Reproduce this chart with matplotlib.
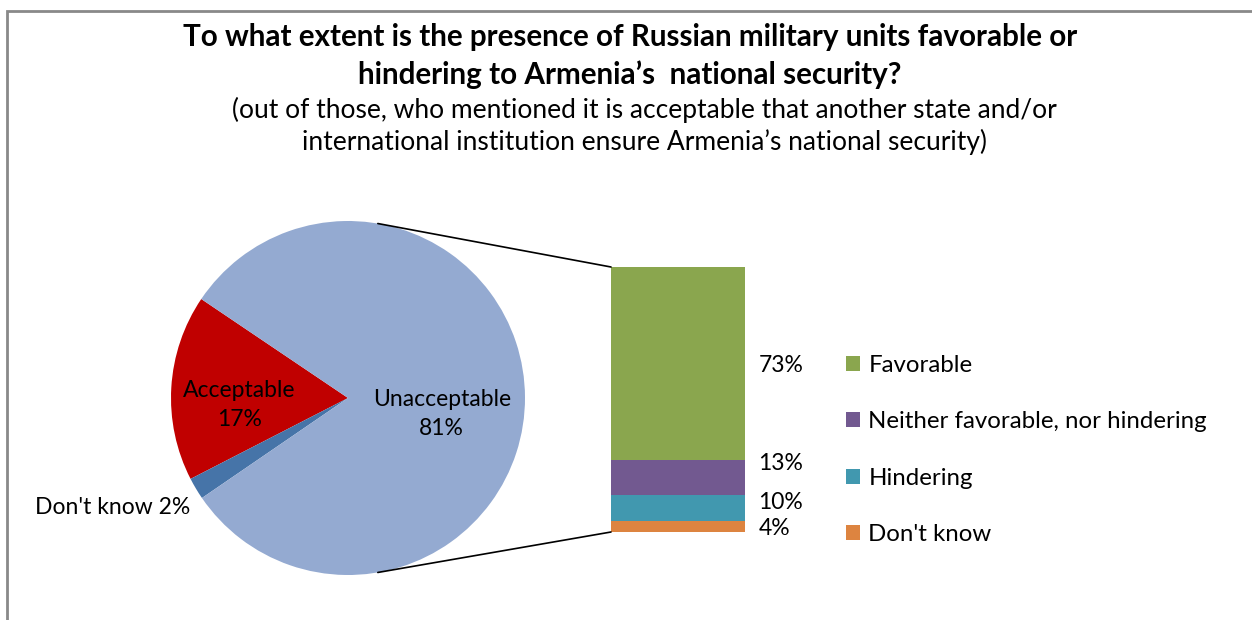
import numpy as np
import matplotlib.pyplot as plt
from matplotlib.patches import Rectangle, ConnectionPatch

plt.rcParams['font.family'] = ['Lato', 'DejaVu Sans']

# pie: share of respondents who find outside security guarantees acceptable
pie_labels = ['Acceptable', "Don't know", 'Unacceptable']
pie_values = [17, 2, 81]
pie_colors = ['#C00000', '#4674A8', '#94AAD1']

# bar: view of Russian military units among the "acceptable" group
bar_labels = ["Don't know", 'Hindering', 'Neither favorable, nor hindering', 'Favorable']
bar_values = [4, 10, 13, 73]
bar_colors = ['#DD8440', '#4198AF', '#725990', '#8AA64E']

title = ("To what extent is the presence of Russian military units favorable or\n"
         "hindering to Armenia\u2019s  national security?")
subtitle = ("(out of those, who mentioned it is acceptable that another state and/or\n"
            "international institution ensure Armenia\u2019s national security)")

W, H = 1252, 620
fig = plt.figure(figsize=(W / 100, H / 100), dpi=100)

# outer frame (only top and left edges fall inside the image)
fig.patches.append(Rectangle((7 / W, -0.1), 1.2, (H - 11) / H + 0.1,
                             transform=fig.transFigure, fill=False,
                             edgecolor='#898989', lw=2))

fig.text(0.503, 1 - 56 / H, title, ha='center', va='center',
         fontsize=21.3, fontweight='bold', linespacing=1.42)
fig.text(0.515, 1 - 126 / H, subtitle, ha='center', va='center',
         fontsize=19, linespacing=1.25)

# pie of the main question
cx, cy, r = 348, 398, 177
ax_pie = fig.add_axes([(cx - r) / W, (H - cy - r) / H, 2 * r / W, 2 * r / H])
ax_pie.pie(pie_values, colors=pie_colors, startangle=146, counterclock=True,
           radius=1, wedgeprops=dict(linewidth=0))
ax_pie.set_xlim(-1, 1)
ax_pie.set_ylim(-1, 1)
ax_pie.set_aspect('equal')
ax_pie.axis('off')

ax_pie.text(-0.615, -0.04, f'{pie_labels[0]}\n{pie_values[0]}%', ha='center',
            va='center', fontsize=16.5, linespacing=1.45)
ax_pie.text(0.53, -0.09, f'{pie_labels[2]}\n{pie_values[2]}%', ha='center',
            va='center', fontsize=16.5, linespacing=1.45)
ax_pie.text(-1.33, -0.62, f'{pie_labels[1]} {pie_values[1]}%', ha='center',
            va='center', fontsize=16.5)

# stacked bar breaking down the secondary question
bx0, bx1, by0, by1 = 611, 745, 267, 532
ax_bar = fig.add_axes([bx0 / W, (H - by1) / H, (bx1 - bx0) / W, (by1 - by0) / H])
bottom = 0
handles = []
for lab, val, col in zip(bar_labels, bar_values, bar_colors):
    h = ax_bar.bar(0, val, width=1, bottom=bottom, color=col, label=lab,
                   linewidth=0)
    handles.append(h)
    bottom += val
ax_bar.set_xlim(-0.5, 0.5)
ax_bar.set_ylim(0, sum(bar_values))
ax_bar.axis('off')

# value labels, nudged apart where the segments are thin
offsets = [-0.5, 2.0, 5.5, -0.5]
bottom = 0
for val, off in zip(bar_values, offsets):
    ax_bar.text(0.6, bottom + val / 2 + off, f'{val}%', ha='left',
                va='center', fontsize=16.5, clip_on=False)
    bottom += val

# connector lines from the pie to the bar
ang = np.deg2rad(80.3)
for sign, yb in [(1, 100), (-1, 0)]:
    con = ConnectionPatch(xyA=(np.cos(ang), sign * np.sin(ang)), coordsA=ax_pie.transData,
                          xyB=(-0.5, yb), coordsB=ax_bar.transData,
                          color='black', lw=1.2)
    fig.add_artist(con)

leg = fig.legend(handles[::-1], bar_labels[::-1], loc='upper left',
                 bbox_to_anchor=(824 / W, 1 - 333 / H), frameon=False,
                 fontsize=17.3, handlelength=0.6, handleheight=0.6,
                 handletextpad=0.35, labelspacing=1.48)

fig.savefig('out.png', dpi=100)
